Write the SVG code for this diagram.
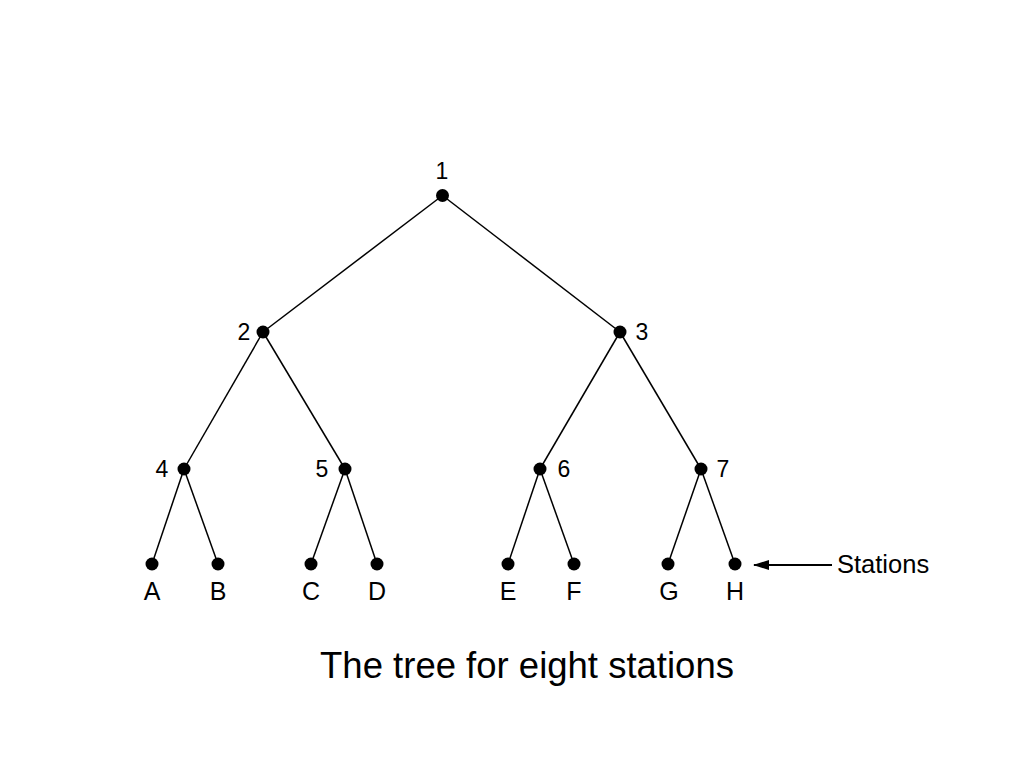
<svg xmlns="http://www.w3.org/2000/svg" width="1024" height="768" viewBox="0 0 1024 768">
<style>
.e{stroke:#000;stroke-width:1.5;fill:none}
.n{fill:#000}
.t{font-family:"Liberation Sans",Arial,sans-serif;fill:#000}
.d{font-size:23px}
.l{font-size:25px;text-anchor:middle}
</style>
<defs>
<marker id="ah" markerWidth="16" markerHeight="10" refX="15" refY="5" orient="auto" markerUnits="userSpaceOnUse">
<path d="M0,0 L16,5 L0,10 Z" fill="#000"/>
</marker>
</defs>
<rect width="1024" height="768" fill="#fff"/>
<g id="connectors">
<line class="e" x1="442.5" y1="195.5" x2="263" y2="332"/>
<line class="e" x1="442.5" y1="195.5" x2="620" y2="332"/>
<line class="e" x1="263" y1="332" x2="184" y2="469"/>
<line class="e" x1="263" y1="332" x2="345" y2="469"/>
<line class="e" x1="620" y1="332" x2="540" y2="469"/>
<line class="e" x1="620" y1="332" x2="701" y2="469"/>
<line class="e" x1="184" y1="469" x2="152" y2="564"/>
<line class="e" x1="184" y1="469" x2="218" y2="564"/>
<line class="e" x1="345" y1="469" x2="311" y2="564"/>
<line class="e" x1="345" y1="469" x2="377" y2="564"/>
<line class="e" x1="540" y1="469" x2="508" y2="564"/>
<line class="e" x1="540" y1="469" x2="574" y2="564"/>
<line class="e" x1="701" y1="469" x2="668" y2="564"/>
<line class="e" x1="701" y1="469" x2="735" y2="564"/>
<line stroke="#000" stroke-width="2" x1="832" y1="565" x2="754" y2="565" marker-end="url(#ah)"/>
</g>
<g id="node1"><circle class="n" cx="442.5" cy="195.5" r="6.5"/><text class="t d" x="442" y="179" text-anchor="middle">1</text></g>
<g id="node2"><circle class="n" cx="263" cy="332" r="6.5"/><text class="t d" x="244" y="340" text-anchor="middle">2</text></g>
<g id="node3"><circle class="n" cx="620" cy="332" r="6.5"/><text class="t d" x="642" y="340" text-anchor="middle">3</text></g>
<g id="node4"><circle class="n" cx="184" cy="469" r="6.5"/><text class="t d" x="162" y="477" text-anchor="middle">4</text></g>
<g id="node5"><circle class="n" cx="345" cy="469" r="6.5"/><text class="t d" x="322" y="477" text-anchor="middle">5</text></g>
<g id="node6"><circle class="n" cx="540" cy="469" r="6.5"/><text class="t d" x="564" y="477" text-anchor="middle">6</text></g>
<g id="node7"><circle class="n" cx="701" cy="469" r="6.5"/><text class="t d" x="723" y="477" text-anchor="middle">7</text></g>
<g id="nodeA"><circle class="n" cx="152" cy="564" r="6.5"/><text class="t l" x="152" y="600">A</text></g>
<g id="nodeB"><circle class="n" cx="218" cy="564" r="6.5"/><text class="t l" x="218" y="600">B</text></g>
<g id="nodeC"><circle class="n" cx="311" cy="564" r="6.5"/><text class="t l" x="311" y="600">C</text></g>
<g id="nodeD"><circle class="n" cx="377" cy="564" r="6.5"/><text class="t l" x="377" y="600">D</text></g>
<g id="nodeE"><circle class="n" cx="508" cy="564" r="6.5"/><text class="t l" x="508" y="600">E</text></g>
<g id="nodeF"><circle class="n" cx="574" cy="564" r="6.5"/><text class="t l" x="574" y="600">F</text></g>
<g id="nodeG"><circle class="n" cx="668" cy="564" r="6.5"/><text class="t l" x="669" y="600">G</text></g>
<g id="nodeH"><circle class="n" cx="735" cy="564" r="6.5"/><text class="t l" x="735" y="600">H</text></g>
<g id="stations"><text class="t" x="837" y="573" font-size="25.5">Stations</text></g>
<g id="caption"><text class="t" x="527" y="678" font-size="36.5" text-anchor="middle">The tree for eight stations</text></g>
</svg>
